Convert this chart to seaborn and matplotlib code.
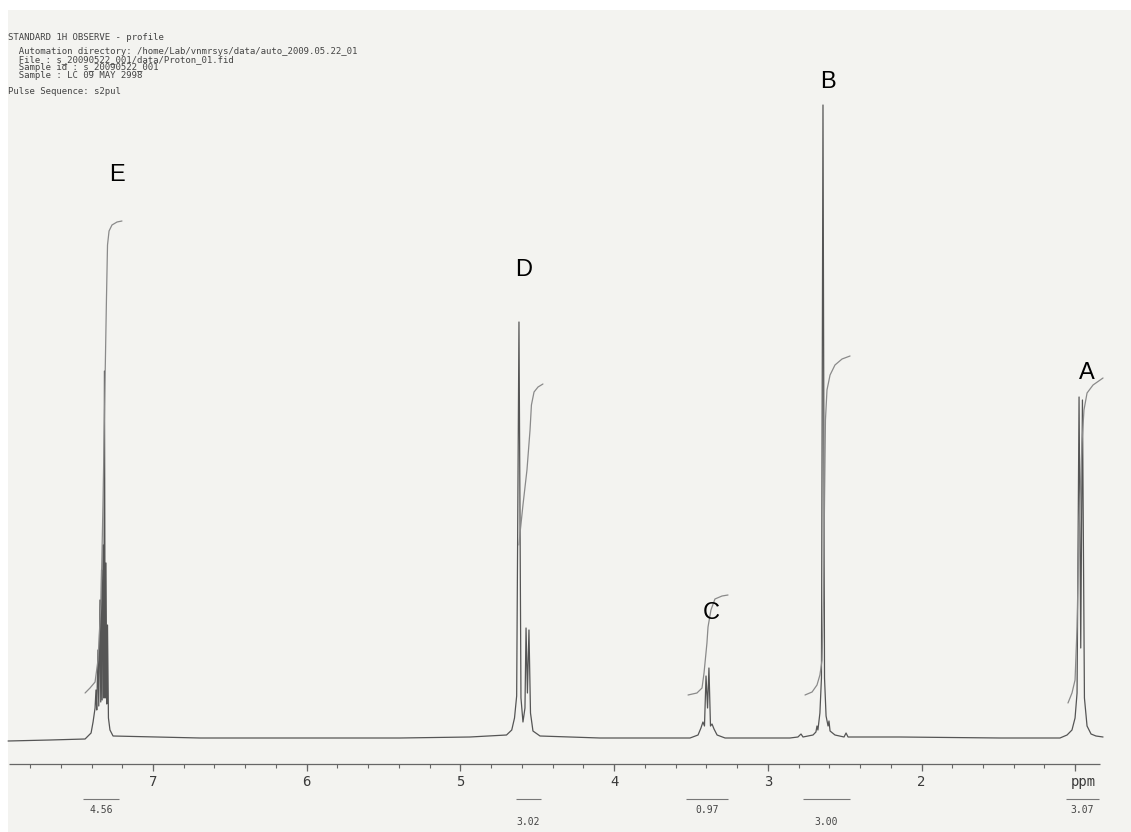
import matplotlib
matplotlib.use("Agg")
import matplotlib.pyplot as plt
from matplotlib.patches import Rectangle
import seaborn as sns

# ---- spectrum trace (chemical shift in ppm, intensity in arbitrary units)
trace_ppm = [
    7.943, 7.670, 7.442, 7.403, 7.390, 7.377,                              # baseline, E foot
    7.371, 7.366, 7.358, 7.353, 7.345, 7.340, 7.335, 7.331, 7.325,         # E multiplet
    7.320, 7.316, 7.311, 7.306, 7.301, 7.296, 7.290, 7.280, 7.260,
    6.694, 6.044, 5.393, 4.938,                                            # empty region
    4.700, 4.666, 4.648, 4.634, 4.619, 4.606, 4.593, 4.580, 4.573,         # D singlet + doublet
    4.564, 4.554, 4.544, 4.528, 4.482, 4.092,
    3.506, 3.454, 3.435, 3.422, 3.412, 3.402, 3.392, 3.383, 3.373,         # C quartet
    3.363, 3.350, 3.330, 3.278,
    2.856, 2.804, 2.784, 2.771, 2.706, 2.687, 2.680, 2.674, 2.661,         # B singlet
    2.651, 2.641, 2.631, 2.621, 2.608, 2.602, 2.595, 2.563, 2.504,
    2.491, 2.478, 2.140, 1.489,
    1.099, 1.053, 1.021, 1.001, 0.988, 0.975, 0.964, 0.953, 0.940,         # A doublet
    0.923, 0.897, 0.865, 0.819,
]
trace_int = [
    -3, -2, -1, 5, 16, 30,
    48, 28, 88, 32, 138, 36, 168, 38, 193,
    40, 367, 40, 175, 34, 113, 20, 8, 2,
    0, 0, 0, 1,
    3, 8, 20, 42, 416, 40, 16, 30, 110,
    45, 108, 25, 7, 2, 0,
    0, 3, 10, 16, 12, 62, 30, 70, 12,
    14, 9, 3, 0,
    0, 1, 4, 1, 3, 6, 12, 8, 25,
    60, 633, 60, 22, 12, 17, 7, 3, 1,
    5, 1, 1, 0,
    0, 3, 8, 20, 45, 341, 90, 338, 40,
    12, 4, 2, 1,
]

# ---- integral curves
int_E_ppm = [7.442, 7.410, 7.377, 7.358, 7.338, 7.325, 7.312, 7.303, 7.296, 7.286, 7.267, 7.234, 7.202]
int_E_val = [45, 50, 56, 78, 138, 238, 358, 438, 493, 507, 513, 516, 517]
int_D_ppm = [4.619, 4.612, 4.593, 4.567, 4.547, 4.538, 4.521, 4.495, 4.463]
int_D_val = [193, 205, 233, 268, 308, 333, 346, 351, 354]
int_C_ppm = [3.519, 3.461, 3.428, 3.415, 3.396, 3.389, 3.370, 3.344, 3.298, 3.259]
int_C_val = [43, 45, 50, 65, 95, 111, 128, 139, 142, 143]
int_B_ppm = [2.758, 2.712, 2.680, 2.661, 2.647, 2.638, 2.631, 2.625, 2.615, 2.595, 2.563, 2.517, 2.465]
int_B_val = [43, 46, 53, 63, 78, 138, 238, 318, 348, 363, 373, 379, 382]
int_A_ppm = [1.047, 1.021, 1.001, 0.988, 0.975, 0.956, 0.943, 0.923, 0.884, 0.819]
int_A_val = [35, 45, 58, 111, 211, 295, 328, 345, 353, 360]

# integral regions and values printed under the axis
int_lo = [7.455, 4.638, 3.532, 2.771, 1.060]
int_hi = [7.221, 4.476, 3.259, 2.465, 0.845]
int_text = ["4.56", "3.02", "0.97", "3.00", "3.07"]
int_row = [0, 1, 0, 1, 0]

# peak letters
peak_names = ["E", "D", "C", "B", "A"]
peak_ppm = [7.234, 4.586, 3.370, 2.608, 0.923]
peak_lab_y = [563, 468, 125, 656, 365]

tick_major = [7, 6, 5, 4, 3, 2, 1]
tick_labels = ["7", "6", "5", "4", "3", "2", "ppm"]

header = [
    "STANDARD 1H OBSERVE - profile",
    "  Automation directory: /home/Lab/vnmrsys/data/auto_2009.05.22_01",
    "  File : s_20090522_001/data/Proton_01.fid",
    "  Sample id : s_20090522_001",
    "  Sample : LC 09 MAY 2998",
    "Pulse Sequence: s2pul",
]

PAPER = "#f3f3f0"
INK = "#555555"

sns.set_theme(style="white")
plt.rcParams["font.family"] = ["DejaVu Sans"]

W, H = 1131, 832
fig = plt.figure(figsize=(W / 100, H / 100), dpi=100)
fig.patch.set_facecolor("white")
fig.patches.append(Rectangle((8 / W, 0), 1, 822 / H, transform=fig.transFigure,
                             facecolor=PAPER, edgecolor="none", zorder=-5))
ax = fig.add_axes([0, 0, 1, 1])
ax.set_zorder(2)
ax.patch.set_visible(False)
ax.axis("off")
left_ppm = 7.9955
ax.set_xlim(left_ppm, left_ppm - W / 153.7)
ax.set_ylim(-94, 738)

# spectrum
sns.lineplot(x=trace_ppm, y=trace_int, sort=False, estimator=None,
             color=INK, lw=0.9, ax=ax)

# integral curves
for px, pv in [(int_E_ppm, int_E_val), (int_D_ppm, int_D_val), (int_C_ppm, int_C_val),
               (int_B_ppm, int_B_val), (int_A_ppm, int_A_val)]:
    sns.lineplot(x=px, y=pv, sort=False, estimator=None, color="#8a8a8a", lw=0.9, ax=ax)

# ppm axis
ax.hlines(-26, 7.94, 0.84, color="#666666", lw=0.9)
minor = [round(7.8 - 0.2 * i, 1) for i in range(35)]
ax.vlines(minor, -29.5, -26, color="#666666", lw=0.8)
ax.vlines(tick_major, -33, -26, color="#666666", lw=0.9)
for t, lab in zip(tick_major, tick_labels):
    xt = t - 0.055 if lab == "ppm" else t
    ax.text(xt, -44, lab, ha="center", va="center", fontsize=10,
            family="DejaVu Sans Mono", color="#3a3a3a")

# integral bars and values
for lo, hi, txt, row in zip(int_lo, int_hi, int_text, int_row):
    ax.hlines(-61, lo, hi, color="#777777", lw=0.8)
    ax.text((lo + hi) / 2, -72 - 12 * row, txt, ha="center", va="center",
            fontsize=7, family="DejaVu Sans Mono", color="#444444")

# peak letters
for name, xp, yp in zip(peak_names, peak_ppm, peak_lab_y):
    ax.text(xp, yp, name, ha="center", va="center", fontsize=17,
            family="Liberation Sans", color="black")

# header block
header_y = [37, 52, 60, 68, 76, 92]
for line, yy in zip(header, header_y):
    fig.text(8 / W, 1 - yy / H, line, ha="left", va="center", fontsize=6.5,
             family="DejaVu Sans Mono", color="#444444")

fig.savefig("out.png", dpi=100, facecolor=fig.get_facecolor())
